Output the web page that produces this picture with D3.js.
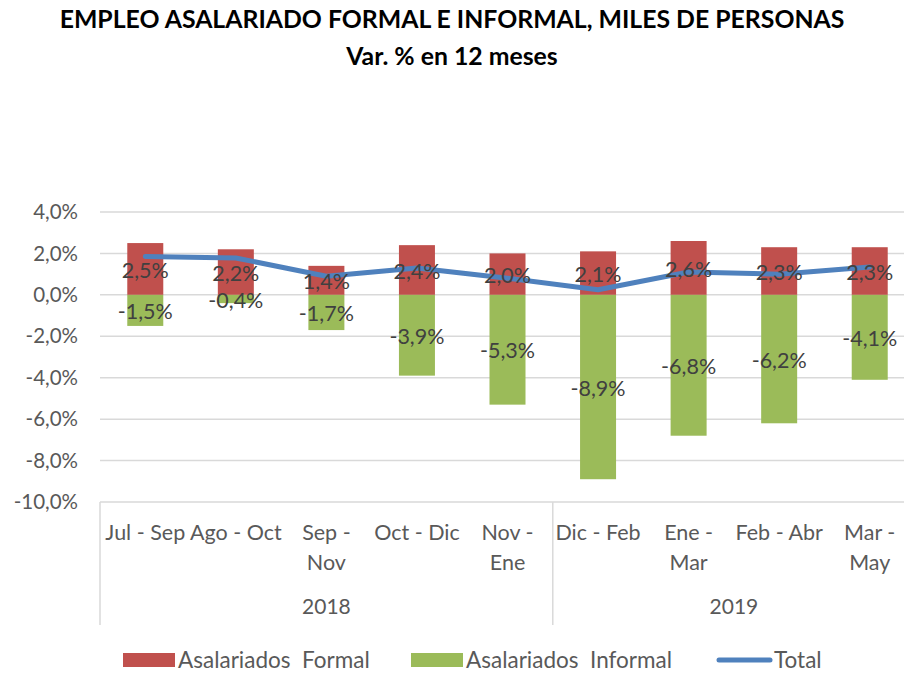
<!DOCTYPE html>
<html>
<head>
<meta charset="utf-8">
<script src="https://cdn.jsdelivr.net/npm/d3@7"></script>
<style>
  body { margin: 0; background: #fff; }
  svg { display: block; font-family: Lato, "Open Sans", sans-serif; }
  .pre { white-space: pre; }
</style>
</head>
<body>
<div id="chart"></div>
<script>
var categories = ["Jul - Sep", "Ago - Oct", "Sep - Nov", "Oct - Dic", "Nov - Ene",
                  "Dic - Feb", "Ene - Mar", "Feb - Abr", "Mar - May"];
var years = ["2018", "2018", "2018", "2018", "2018", "2019", "2019", "2019", "2019"];
var formal = [2.5, 2.2, 1.4, 2.4, 2.0, 2.1, 2.6, 2.3, 2.3];
var informal = [-1.5, -0.4, -1.7, -3.9, -5.3, -8.9, -6.8, -6.2, -4.1];
var total = [1.85, 1.78, 0.9, 1.3, 0.8, 0.25, 1.1, 1.0, 1.35];
var yTicks = [4, 2, 0, -2, -4, -6, -8, -10];

// labels that wrap to two lines in the original
var wrapped = { "Sep - Nov": 1, "Nov - Ene": 1, "Ene - Mar": 1, "Mar - May": 1 };

var width = 904, height = 673;
var red = "#C0504D", green = "#9BBB59", blue = "#4F81BD";

var svg = d3.select("#chart").append("svg")
    .attr("width", width)
    .attr("height", height);

svg.append("text")
    .attr("x", 452).attr("y", 28)
    .attr("text-anchor", "middle")
    .style("font-weight", "bold").style("font-size", "24.8px")
    .text("EMPLEO ASALARIADO FORMAL E INFORMAL, MILES DE PERSONAS");
svg.append("text")
    .attr("x", 452).attr("y", 65)
    .attr("text-anchor", "middle")
    .style("font-weight", "bold").style("font-size", "24.8px")
    .text("Var. % en 12 meses");

var band = d3.scaleBand().domain(categories).range([100, 915]);
var y = d3.scaleLinear().domain([-10, 4]).range([502, 212]);

function cx(i) { return band(categories[i]) + band.bandwidth() / 2; }

// gridlines
svg.append("g").selectAll("line")
    .data(yTicks.filter(function(d) { return d > -10; }))
    .enter().append("line")
    .attr("x1", 100).attr("x2", width)
    .attr("y1", function(d) { return y(d); })
    .attr("y2", function(d) { return y(d); })
    .attr("stroke", "#D9D9D9").attr("stroke-width", 1.5);

// y labels
var fmt = function(d) { return d.toFixed(1).replace(".", ",") + "%"; };
svg.append("g").selectAll("text")
    .data(yTicks)
    .enter().append("text")
    .attr("x", 78)
    .attr("y", function(d) { return y(d); })
    .attr("dy", "0.35em")
    .attr("text-anchor", "end")
    .attr("fill", "#595959")
    .style("font-size", "20.5px")
    .text(fmt);

// bars
var bw = 36;
svg.append("g").selectAll("rect")
    .data(formal)
    .enter().append("rect")
    .attr("x", function(d, i) { return cx(i) - bw / 2; })
    .attr("width", bw)
    .attr("y", function(d) { return y(d); })
    .attr("height", function(d) { return y(0) - y(d); })
    .attr("fill", red);
svg.append("g").selectAll("rect")
    .data(informal)
    .enter().append("rect")
    .attr("x", function(d, i) { return cx(i) - bw / 2; })
    .attr("width", bw)
    .attr("y", y(0))
    .attr("height", function(d) { return y(d) - y(0); })
    .attr("fill", green);

// axis frame
svg.append("line")
    .attr("x1", 100).attr("x2", width)
    .attr("y1", y(-10)).attr("y2", y(-10))
    .attr("stroke", "#D9D9D9").attr("stroke-width", 1.5);
svg.append("line")
    .attr("x1", 100).attr("x2", 100)
    .attr("y1", y(-10)).attr("y2", 625)
    .attr("stroke", "#D9D9D9").attr("stroke-width", 1.5);
var sep = band(categories[5]);
svg.append("line")
    .attr("x1", sep).attr("x2", sep)
    .attr("y1", y(-10)).attr("y2", 625)
    .attr("stroke", "#D9D9D9").attr("stroke-width", 1.5);

// total line
var line = d3.line()
    .x(function(d, i) { return cx(i); })
    .y(function(d) { return y(d); });
svg.append("path")
    .datum(total)
    .attr("d", line)
    .attr("fill", "none")
    .attr("stroke", blue)
    .attr("stroke-width", 5)
    .attr("stroke-linejoin", "round")
    .attr("stroke-linecap", "round");

// data labels
[formal, informal].forEach(function(series) {
    svg.append("g").selectAll("text")
        .data(series)
        .enter().append("text")
        .attr("x", function(d, i) { return cx(i); })
        .attr("y", function(d) { return y(d / 2); })
        .attr("dy", "0.4em")
        .attr("text-anchor", "middle")
        .attr("fill", "#404040")
        .style("font-size", "21.5px")
        .text(fmt);
});

// category labels
var cat = svg.append("g").selectAll("text")
    .data(categories)
    .enter().append("text")
    .attr("text-anchor", "middle")
    .attr("fill", "#595959")
    .style("font-size", "21.5px");
cat.each(function(d, i) {
    var t = d3.select(this);
    if (wrapped[d]) {
        var parts = d.split(" - ");
        t.append("tspan").attr("x", cx(i)).attr("y", 540).text(parts[0] + " -");
        t.append("tspan").attr("x", cx(i)).attr("y", 570).text(parts[1]);
    } else {
        t.append("tspan").attr("x", cx(i)).attr("y", 540).text(d);
    }
});

// year labels
var yearNames = Array.from(new Set(years));
svg.append("g").selectAll("text")
    .data(yearNames)
    .enter().append("text")
    .attr("x", function(yr) {
        var a = band(categories[years.indexOf(yr)]);
        var b = band(categories[years.lastIndexOf(yr)]) + band.bandwidth();
        return (a + b) / 2;
    })
    .attr("y", 614)
    .attr("text-anchor", "middle")
    .attr("fill", "#595959")
    .style("font-size", "21px")
    .text(function(d) { return d; });

// legend
var legend = [
    { name: "Asalariados  Formal", type: "rect", color: red, x: 123 },
    { name: "Asalariados  Informal", type: "rect", color: green, x: 411 },
    { name: "Total", type: "line", color: blue, x: 717 }
];
var lg = svg.append("g").selectAll("g")
    .data(legend)
    .enter().append("g")
    .attr("transform", function(d) { return "translate(" + d.x + ",660)"; });
lg.filter(function(d) { return d.type === "rect"; })
    .append("rect")
    .attr("x", 0).attr("y", -7).attr("width", 52).attr("height", 14)
    .attr("fill", function(d) { return d.color; });
lg.filter(function(d) { return d.type === "line"; })
    .append("line")
    .attr("x1", 2).attr("x2", 53).attr("y1", 0).attr("y2", 0)
    .attr("stroke", function(d) { return d.color; })
    .attr("stroke-width", 5).attr("stroke-linecap", "round");
lg.append("text")
    .attr("class", "pre")
    .attr("x", function(d) { return d.type === "rect" ? 55 : 57; })
    .attr("y", 0)
    .attr("dy", "0.35em")
    .attr("fill", "#595959")
    .style("font-size", "22.5px")
    .text(function(d) { return d.name; });
</script>
</body>
</html>
